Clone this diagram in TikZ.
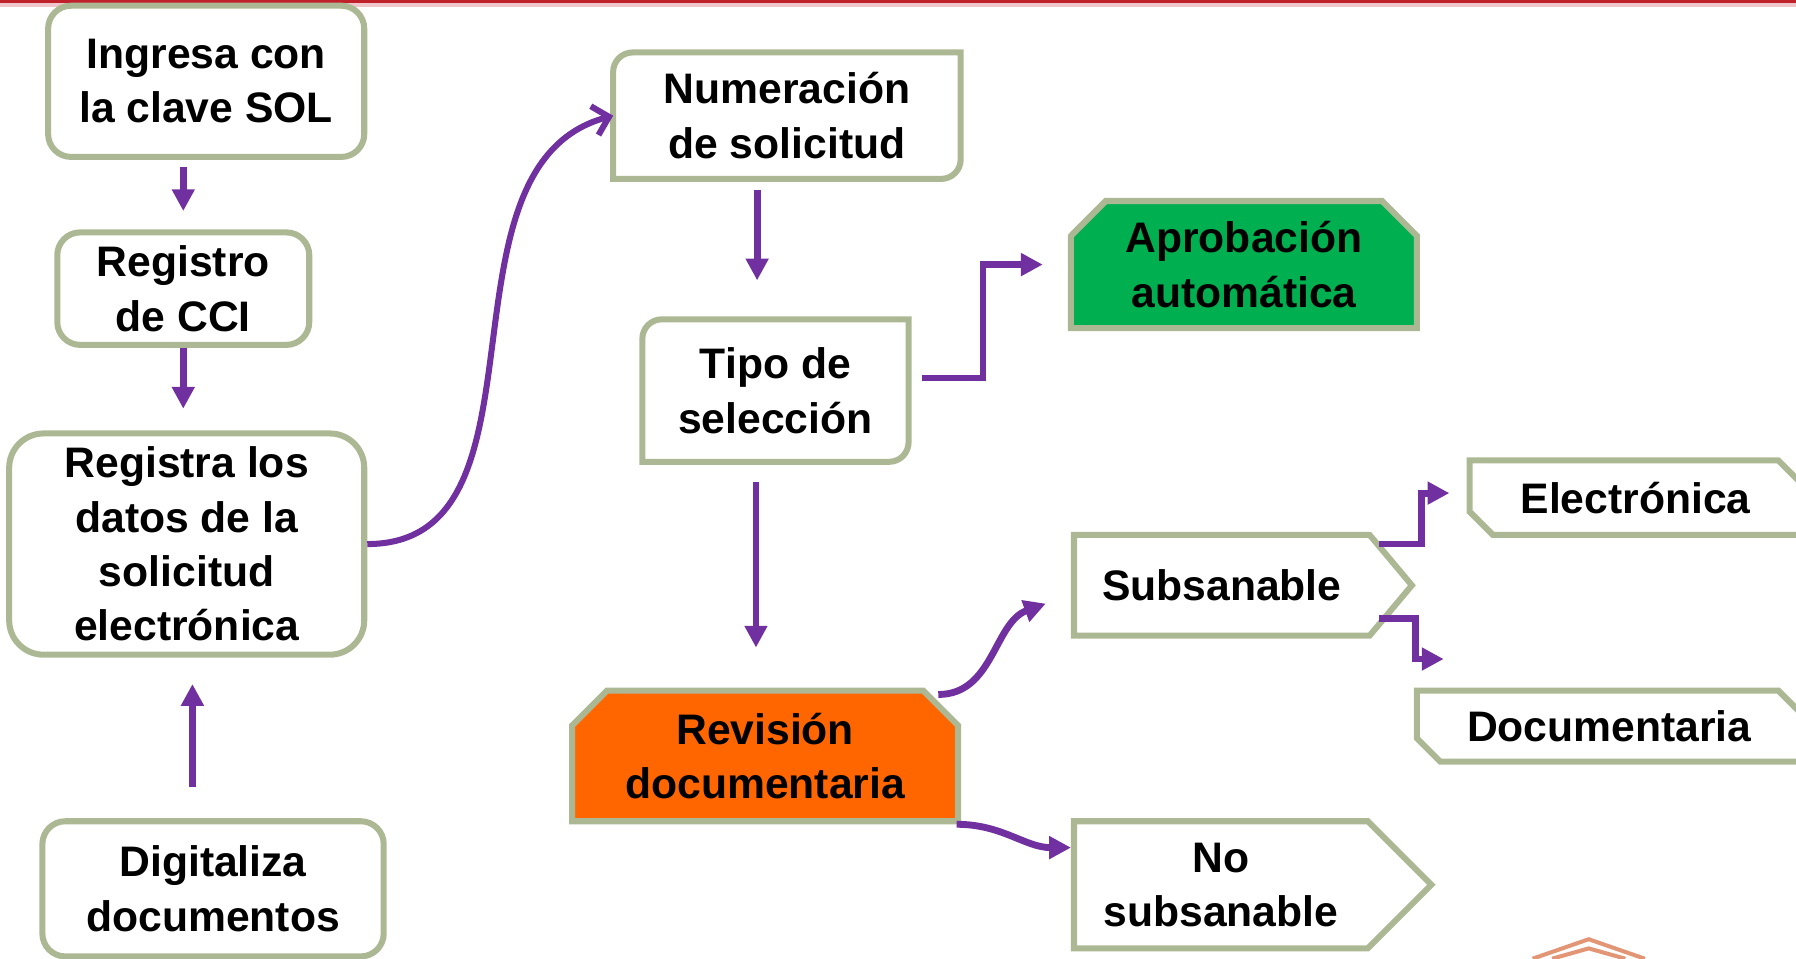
\documentclass[tikz,border=0pt]{standalone}
\usepackage{fontspec}
\setmainfont{Liberation Sans}
\usetikzlibrary{shapes.misc, shapes.symbols, arrows.meta, positioning}
\definecolor{boxgray}{RGB}{172,184,148}
\definecolor{flowpurple}{RGB}{112,48,160}
\definecolor{okgreen}{RGB}{0,176,80}
\definecolor{revorange}{RGB}{255,102,0}
\definecolor{slidered}{RGB}{192,32,42}
\definecolor{logoorange}{RGB}{226,150,118}

\begin{document}
\begin{tikzpicture}[font=\fontsize{10.6}{13.5}\selectfont\bfseries]
        \tikzstyle{roundbox} = [rectangle, rounded corners=0.2cm, draw=boxgray, line width=1.5pt, align=center]
        \tikzstyle{plainbox} = [rectangle, align=center, inner sep=0pt]
        \tikzstyle{snipbox} = [chamfered rectangle, chamfered rectangle corners={north west, north east}, chamfered rectangle xsep=0.18cm, draw=boxgray, line width=1.5pt, align=center, inner sep=0pt]
        \tikzstyle{sidebox} = [chamfered rectangle, chamfered rectangle corners={north east, south west}, chamfered rectangle xsep=0.08cm, draw=boxgray, line width=1.5pt, align=center, inner sep=0pt]
        \tikzstyle{pointbox} = [signal, signal to=east, draw=boxgray, line width=1.5pt, align=center, inner sep=0pt, anchor=west]
        \tikzstyle{outline} = [draw=boxgray, line width=1.5pt]
        \tikzstyle{arrow} = [flowpurple, line width=1.7pt, -{Triangle[width=0.19cm,length=0.19cm]}]

        \useasboundingbox (0,0) rectangle (15.68,8.37);
        \clip (0,0) rectangle (15.68,8.37);
        \fill[slidered!25] (0,8.31) rectangle (15.68,8.37);
        \fill[slidered] (0,8.345) rectangle (15.68,8.37);

        % left column
        \node (ingresa) [roundbox, minimum width=2.76cm, minimum height=1.32cm] at (1.80,7.66) {Ingresa con\\la clave SOL};
        \node (registro) [roundbox, minimum width=2.20cm, minimum height=0.96cm] at (1.60,5.85) {Registro\\de CCI};
        \node (registra) [roundbox, rounded corners=0.3cm, minimum width=3.10cm, minimum height=1.90cm] at (1.63,3.62) {Registra los\\datos de la\\solicitud\\electrónica};
        \node (digitaliza) [roundbox, minimum width=2.98cm, minimum height=1.18cm] at (1.86,0.61) {Digitaliza\\documentos};

        % middle column
        \node (numeracion) [plainbox, minimum width=3.02cm, minimum height=1.09cm] at (6.87,7.36) {Numeración\\de solicitud};
        \node (tipo) [plainbox, minimum width=2.31cm, minimum height=1.23cm] at (6.77,4.96) {Tipo de\\selección};
        \node (revision) [snipbox, fill=revorange, minimum width=3.37cm, minimum height=1.14cm] at (6.68,1.77) {Revisión\\documentaria};

        \draw[outline] (numeracion.south west) -- ([yshift=-0.17cm]numeracion.north west) arc[start angle=180, end angle=90, radius=0.17cm] -- (numeracion.north east) -- ([yshift=0.17cm]numeracion.south east) arc[start angle=0, end angle=-90, radius=0.17cm] -- cycle;
        \draw[outline] (tipo.south west) -- ([yshift=-0.17cm]tipo.north west) arc[start angle=180, end angle=90, radius=0.17cm] -- (tipo.north east) -- ([yshift=0.17cm]tipo.south east) arc[start angle=0, end angle=-90, radius=0.17cm] -- cycle;

        % right side
        \node (aprobacion) [snipbox, fill=okgreen, minimum width=3.02cm, minimum height=1.11cm] at (10.86,6.06) {Aprobación\\automática};
        \node (subsanable) [pointbox, minimum width=2.95cm, minimum height=0.88cm, signal pointer angle=100] at (9.35,3.26) {Subsanable};
        \node (nosub) [pointbox, minimum width=3.12cm, minimum height=1.11cm, signal pointer angle=90] at (9.35,0.645) {No\\subsanable};
        \node (electronica) [sidebox, minimum width=2.90cm, minimum height=0.65cm] at (14.28,4.025) {Electrónica};
        \node (documentaria) [sidebox, minimum width=3.36cm, minimum height=0.62cm] at (14.05,2.03) {Documentaria};
        \coordinate (docin) at ([xshift=0.26cm, yshift=0.25cm]documentaria.north west);

        \draw [arrow, shorten <=0.06cm, shorten >=0.16cm] (registro.north |- ingresa.south) -- (registro.north);
        \draw [arrow, shorten >=0.19cm] (registro.south) -- (registro.south |- registra.north);
        \draw [arrow, shorten <=0.27cm, shorten >=0.23cm] ([xshift=0.05cm]registra.south |- digitaliza.north) -- ([xshift=0.05cm]registra.south);
        \draw [flowpurple, line width=1.5pt, -{Straight Barb[length=0.13cm, width=0.26cm]}] (registra.east) to[out=0, in=195] (numeracion.west);
        \draw [arrow, shorten <=0.1cm, shorten >=0.34cm] ([xshift=-0.16cm]tipo.north |- numeracion.south) -- ([xshift=-0.16cm]tipo.north);
        \draw [arrow, shorten >=0.22cm] ([xshift=0.12cm, yshift=0.11cm]tipo.east) -- ++(0.53,0) |- (aprobacion.west);
        \draw [arrow, shorten <=0.18cm, shorten >=0.35cm] ([xshift=-0.17cm]tipo.south) -- ([xshift=-0.17cm]tipo.south |- revision.north);
        \draw [arrow] ([xshift=-0.04cm, yshift=0.10cm]revision.north east) to[out=0, in=200] ([xshift=-0.22cm, yshift=-0.16cm]subsanable.west);
        \draw [arrow] ([xshift=-0.04cm]revision.south east) to[out=0, in=180] ([yshift=0.325cm]nosub.west);
        \draw [arrow, shorten >=0.15cm] ([xshift=-0.32cm, yshift=0.36cm]subsanable.east) -- ++(0.37,0) |- ([yshift=0.04cm]electronica.west);
        \draw [arrow] ([xshift=-0.32cm, yshift=-0.29cm]subsanable.east) -- ++(0.32,0) |- (docin);

        % faint logo at the foot
        \draw[logoorange, line width=1pt] (13.38,0) -- (13.87,0.17) -- (14.36,0);
        \draw[logoorange, line width=1pt] (13.55,0) -- (13.87,0.09) -- (14.19,0);
\end{tikzpicture}
\end{document}
